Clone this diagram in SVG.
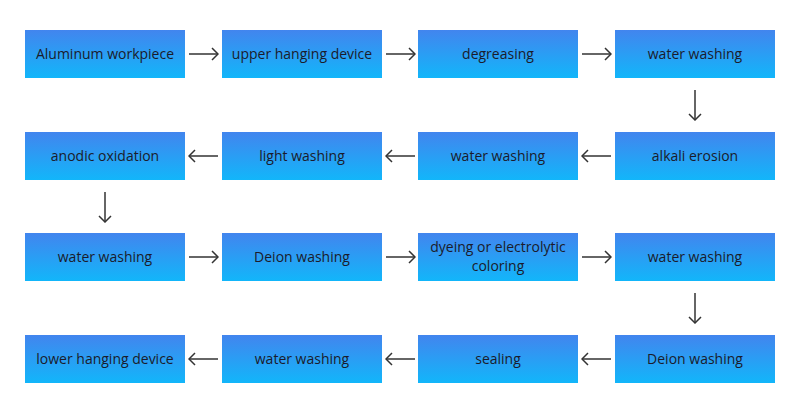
<svg xmlns="http://www.w3.org/2000/svg" width="800" height="410" viewBox="0 0 800 410">
<defs>
<linearGradient id="g" x1="0" y1="0" x2="0" y2="1">
<stop offset="0" stop-color="#4285ee"/>
<stop offset="1" stop-color="#12b6fa"/>
</linearGradient>
<marker id="ah" viewBox="0 0 10 14" refX="9" refY="7" markerWidth="10" markerHeight="14" markerUnits="userSpaceOnUse" orient="auto">
<path d="M3,1 L9,7 L3,13" fill="none" stroke="#333" stroke-width="1.5"/>
</marker>
<style>
rect{fill:url(#g)}
text{font-family:"Open Sans","Noto Sans","Liberation Sans",sans-serif;font-size:14px;fill:#1b1b2b;text-anchor:middle}
.c line{stroke:#333;stroke-width:1.5;marker-end:url(#ah)}
</style>
</defs>
<rect width="800" height="410" style="fill:#fff"/>
<g id="n1"><rect x="25" y="30" width="160" height="48"/><text x="105" y="59">Aluminum workpiece</text></g>
<g id="n2"><rect x="222" y="30" width="160" height="48"/><text x="302" y="59">upper hanging device</text></g>
<g id="n3"><rect x="418" y="30" width="160" height="48"/><text x="498" y="59">degreasing</text></g>
<g id="n4"><rect x="615" y="30" width="160" height="48"/><text x="695" y="59">water washing</text></g>
<g id="n5"><rect x="615" y="132" width="160" height="48"/><text x="695" y="161">alkali erosion</text></g>
<g id="n6"><rect x="418" y="132" width="160" height="48"/><text x="498" y="161">water washing</text></g>
<g id="n7"><rect x="222" y="132" width="160" height="48"/><text x="302" y="161">light washing</text></g>
<g id="n8"><rect x="25" y="132" width="160" height="48"/><text x="105" y="161">anodic oxidation</text></g>
<g id="n9"><rect x="25" y="233" width="160" height="48"/><text x="105" y="262">water washing</text></g>
<g id="n10"><rect x="222" y="233" width="160" height="48"/><text x="302" y="262">Deion washing</text></g>
<g id="n11"><rect x="418" y="233" width="160" height="48"/><text x="498" y="252">dyeing or electrolytic</text><text x="498" y="271">coloring</text></g>
<g id="n12"><rect x="615" y="233" width="160" height="48"/><text x="695" y="262">water washing</text></g>
<g id="n13"><rect x="615" y="335" width="160" height="48"/><text x="695" y="364">Deion washing</text></g>
<g id="n14"><rect x="418" y="335" width="160" height="48"/><text x="498" y="364">sealing</text></g>
<g id="n15"><rect x="222" y="335" width="160" height="48"/><text x="302" y="364">water washing</text></g>
<g id="n16"><rect x="25" y="335" width="160" height="48"/><text x="105" y="364">lower hanging device</text></g>
<g class="c" id="connectors">
<line x1="189" y1="54" x2="218" y2="54"/>
<line x1="386" y1="54" x2="415" y2="54"/>
<line x1="582" y1="54" x2="611" y2="54"/>
<line x1="695" y1="90" x2="695" y2="120"/>
<line x1="611" y1="156" x2="582" y2="156"/>
<line x1="415" y1="156" x2="386" y2="156"/>
<line x1="218" y1="156" x2="189" y2="156"/>
<line x1="105" y1="192" x2="105" y2="222"/>
<line x1="189" y1="257" x2="218" y2="257"/>
<line x1="386" y1="257" x2="415" y2="257"/>
<line x1="582" y1="257" x2="611" y2="257"/>
<line x1="695" y1="293" x2="695" y2="323"/>
<line x1="611" y1="359" x2="582" y2="359"/>
<line x1="415" y1="359" x2="386" y2="359"/>
<line x1="218" y1="359" x2="189" y2="359"/>
</g>
</svg>
